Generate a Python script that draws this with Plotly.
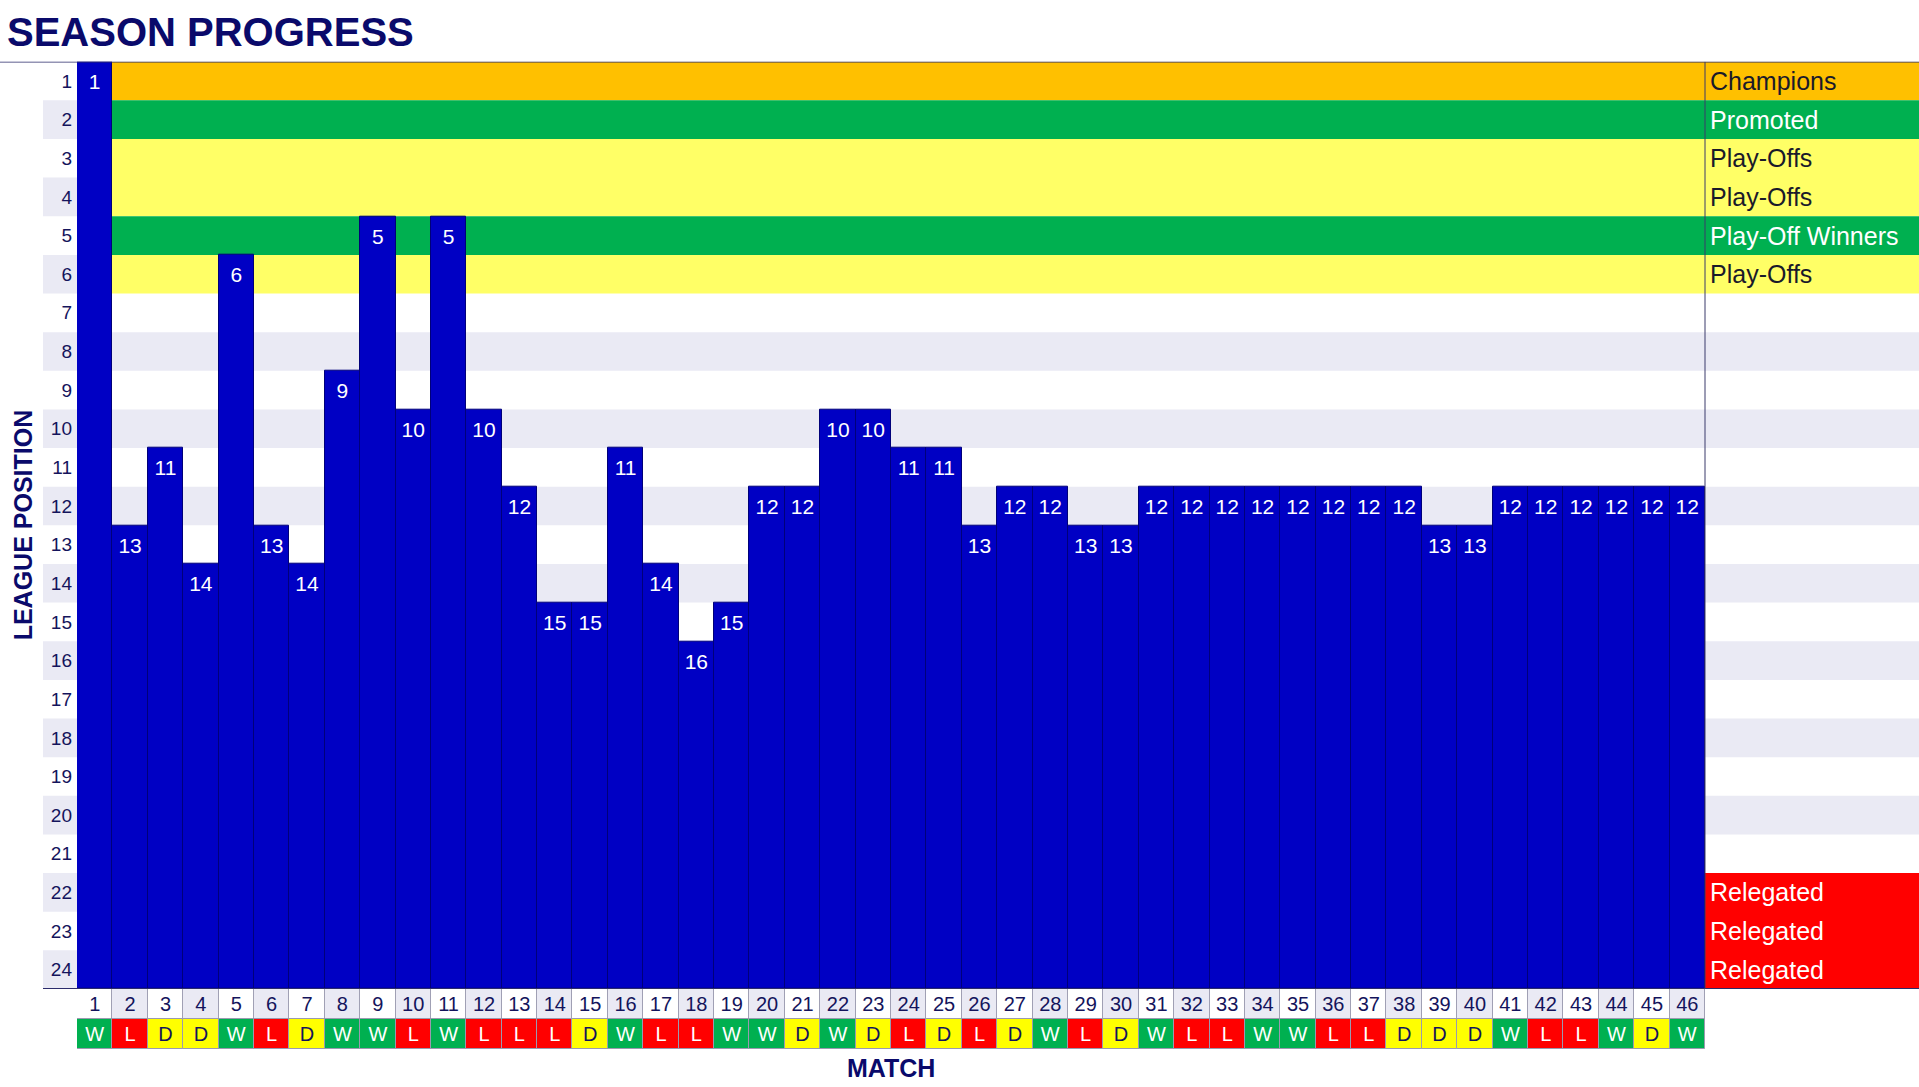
import plotly.graph_objects as go

# season data
matches = list(range(1, 47))
positions = [1, 13, 11, 14, 6, 13, 14, 9, 5, 10,
             5, 10, 12, 15, 15, 11, 14, 16, 15, 12,
             12, 10, 10, 11, 11, 13, 12, 12, 13, 13,
             12, 12, 12, 12, 12, 12, 12, 12, 13, 13,
             12, 12, 12, 12, 12, 12]
results = ['W', 'L', 'D', 'D', 'W', 'L', 'D', 'W', 'W', 'L',
           'W', 'L', 'L', 'L', 'D', 'W', 'L', 'L', 'W', 'W',
           'D', 'W', 'D', 'L', 'D', 'L', 'D', 'W', 'L', 'D',
           'W', 'L', 'L', 'W', 'W', 'L', 'L', 'D', 'D', 'D',
           'W', 'L', 'L', 'W', 'D', 'W']

league_rows = list(range(1, 25))
zone_rows = [1, 2, 3, 4, 5, 6, 22, 23, 24]
zone_labels = ['Champions', 'Promoted', 'Play-Offs', 'Play-Offs',
               'Play-Off Winners', 'Play-Offs',
               'Relegated', 'Relegated', 'Relegated']

NAVY = '#14145c'
BAR_BLUE = '#0000C4'
LAVENDER = '#EAEAF4'
FONT = 'Liberation Sans, Arial, sans-serif'

zone_colors = {'Champions': '#FFC000', 'Promoted': '#00B050',
               'Play-Offs': '#FFFF66', 'Play-Off Winners': '#00B050',
               'Relegated': '#FF0000'}
zone_font = {'Champions': '#1a1a2a', 'Promoted': 'white',
             'Play-Offs': '#1a1a2a', 'Play-Off Winners': 'white',
             'Relegated': 'white'}
result_colors = {'W': '#00B050', 'L': '#FF0000', 'D': '#FFFF00'}
result_font = {'W': 'white', 'L': 'white', 'D': NAVY}

W, H = 1919, 1087
PLOT_L, PLOT_R, PLOT_T, PLOT_B, TABLE_B = 77, 1705, 61.7, 989, 1049
LABEL_L = 43
TEXT_NUDGE = 0.07  # push bar labels slightly down inside their row


def fx(p):
    return p / W


def fy(p):
    return 1 - p / H


fig = go.Figure()

# position bars, drawn from the bottom of the table up to the position reached
fig.add_trace(go.Bar(
    x=matches, y=[p - 25 for p in positions], base=24.5,
    width=1, marker=dict(color=BAR_BLUE, line=dict(color='#00007a', width=1)),
    hoverinfo='skip', showlegend=False))
fig.add_trace(go.Scatter(
    x=matches, y=[p + TEXT_NUDGE for p in positions],
    text=[str(p) for p in positions], mode='text',
    textfont=dict(color='white', size=21, family=FONT),
    hoverinfo='skip', showlegend=False))

# match number row and result row
fig.add_trace(go.Bar(
    x=matches, y=[1] * len(matches), base=1, yaxis='y2', width=1,
    marker=dict(color=[LAVENDER if m % 2 == 0 else 'white' for m in matches],
                line=dict(color='#a0a0b4', width=1)),
    hoverinfo='skip', showlegend=False))
fig.add_trace(go.Bar(
    x=matches, y=[1] * len(matches), base=0, yaxis='y2', width=1,
    marker=dict(color=[result_colors[r] for r in results],
                line=dict(color='#9a9ab0', width=1)),
    hoverinfo='skip', showlegend=False))
fig.add_trace(go.Scatter(
    x=matches, y=[1.42] * len(matches), yaxis='y2', mode='text',
    text=[str(m) for m in matches],
    textfont=dict(color=NAVY, size=20, family=FONT),
    hoverinfo='skip', showlegend=False))
fig.add_trace(go.Scatter(
    x=matches, y=[0.44] * len(matches), yaxis='y2', mode='text',
    text=results,
    textfont=dict(color=[result_font[r] for r in results], size=20, family=FONT),
    hoverinfo='skip', showlegend=False))

# background bands per league position (runs of the same colour merged)
shapes = []
zone_of = dict(zip(zone_rows, zone_labels))


def band_runs(colour_of_row):
    runs = []
    for row in league_rows:
        c = colour_of_row(row)
        if runs and runs[-1][0] == c and runs[-1][2] == row - 1:
            runs[-1][2] = row
        else:
            runs.append([c, row, row])
    return [r for r in runs if r[0] is not None]


for c, r0, r1 in band_runs(lambda r: LAVENDER if r % 2 == 0 else None):
    shapes.append(dict(type='rect', xref='paper', yref='y', layer='below',
                       x0=fx(LABEL_L), x1=fx(PLOT_L), y0=r0 - 0.5, y1=r1 + 0.5,
                       fillcolor=c, line=dict(width=0)))


def main_colour(row):
    if row in zone_of:
        return zone_colors[zone_of[row]]
    return LAVENDER if row % 2 == 0 else None


for c, r0, r1 in band_runs(main_colour):
    shapes.append(dict(type='rect', xref='paper', yref='y', layer='below',
                       x0=fx(PLOT_L), x1=1, y0=r0 - 0.5, y1=r1 + 0.5,
                       fillcolor=c, line=dict(width=0)))

shapes.append(dict(type='line', xref='paper', yref='y', x0=0, x1=1, y0=0.5, y1=0.5,
                   line=dict(color='#2b2b6b', width=1.5)))
shapes.append(dict(type='line', xref='paper', yref='y', x0=fx(LABEL_L), x1=1,
                   y0=24.5, y1=24.5, line=dict(color='#2b2b6b', width=2)))
shapes.append(dict(type='line', xref='paper', yref='y', x0=fx(PLOT_R), x1=fx(PLOT_R),
                   y0=0.5, y1=24.5, line=dict(color='#3a3a6a', width=1)))

annotations = []
for row, label in zip(zone_rows, zone_labels):
    annotations.append(dict(xref='paper', yref='y', x=fx(PLOT_R + 3), y=row,
                            xanchor='left', yanchor='middle', showarrow=False,
                            text=label, font=dict(size=25, color=zone_font[label],
                                                  family=FONT)))

annotations.append(dict(xref='paper', yref='paper', x=fx(5), y=fy(32),
                        xanchor='left', yanchor='middle', showarrow=False,
                        text='<b>SEASON PROGRESS</b>',
                        font=dict(size=40, color='#0a0a6b', family=FONT)))
annotations.append(dict(xref='paper', yref='paper', x=fx(23), y=fy((PLOT_T + PLOT_B) / 2),
                        xanchor='center', yanchor='middle', showarrow=False,
                        textangle=-90, text='<b>LEAGUE POSITION</b>',
                        font=dict(size=25, color='#0a0a6b', family=FONT)))
annotations.append(dict(xref='paper', yref='paper', x=fx((PLOT_L + PLOT_R) / 2), y=fy(1068),
                        xanchor='center', yanchor='middle', showarrow=False,
                        text='<b>MATCH</b>',
                        font=dict(size=25, color='#0a0a6b', family=FONT)))

fig.update_layout(
    width=W, height=H,
    margin=dict(l=0, r=0, t=0, b=0),
    paper_bgcolor='white', plot_bgcolor='rgba(0,0,0,0)',
    barmode='overlay', bargap=0,
    shapes=shapes, annotations=annotations,
    xaxis=dict(domain=[fx(PLOT_L), fx(PLOT_R)], range=[0.5, 46.5],
               showticklabels=False, showgrid=False, zeroline=False, showline=False,
               ticks='', fixedrange=True),
    yaxis=dict(domain=[fy(PLOT_B), fy(PLOT_T)], range=[24.5, 0.5],
               tickvals=league_rows, ticks='', ticklabelstandoff=4,
               tickfont=dict(size=19, color=NAVY, family=FONT),
               showgrid=False, zeroline=False, showline=False, fixedrange=True),
    yaxis2=dict(domain=[fy(TABLE_B), fy(PLOT_B)], range=[0, 2], anchor='x',
                visible=False, fixedrange=True),
)

fig.write_html("out.html", config={'displayModeBar': False},
               post_script="document.body.style.margin='0';document.body.style.overflow='hidden';")
